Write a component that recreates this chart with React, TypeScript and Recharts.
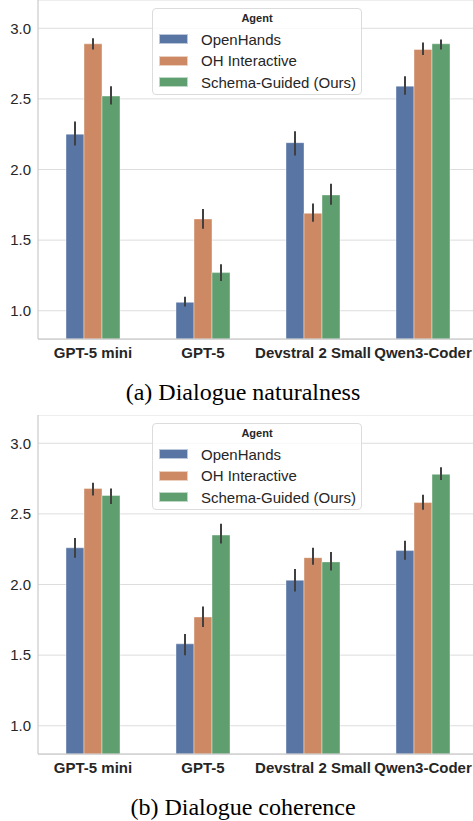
import { BarChart, Bar, XAxis, YAxis, CartesianGrid, ErrorBar, Legend } from 'recharts';

const CATEGORIES = ['GPT-5 mini', 'GPT-5', 'Devstral 2 Small', 'Qwen3-Coder'];
const AGENTS = ['OpenHands', 'OH Interactive', 'Schema-Guided (Ours)'];
const COLORS = ['#5875a4', '#cc8963', '#5f9e6e'];
const Y_TICKS = [1.0, 1.5, 2.0, 2.5, 3.0];

// (a) Dialogue naturalness: mean, CI low, CI high per agent
const NAT_MEAN = [
  [2.25, 1.06, 2.19, 2.59],
  [2.89, 1.65, 1.69, 2.85],
  [2.52, 1.27, 1.82, 2.89],
];
const NAT_LO = [
  [2.17, 1.03, 2.1, 2.53],
  [2.85, 1.58, 1.63, 2.81],
  [2.46, 1.21, 1.75, 2.85],
];
const NAT_HI = [
  [2.34, 1.1, 2.27, 2.66],
  [2.93, 1.72, 1.76, 2.9],
  [2.59, 1.33, 1.9, 2.92],
];

// (b) Dialogue coherence
const COH_MEAN = [
  [2.26, 1.58, 2.03, 2.24],
  [2.68, 1.77, 2.19, 2.58],
  [2.63, 2.35, 2.16, 2.78],
];
const COH_LO = [
  [2.19, 1.5, 1.95, 2.175],
  [2.63, 1.7, 2.14, 2.53],
  [2.57, 2.29, 2.1, 2.74],
];
const COH_HI = [
  [2.33, 1.65, 2.11, 2.31],
  [2.72, 1.845, 2.26, 2.635],
  [2.68, 2.43, 2.23, 2.83],
];

const SANS = '"Liberation Sans", Arial, sans-serif';
const TEXT = '#262626';

function buildRows(mean: number[][], lo: number[][], hi: number[][]) {
  return CATEGORIES.map((name, i) => {
    const row: any = { name };
    AGENTS.forEach((_, k) => {
      row[`m${k}`] = mean[k][i];
      row[`e${k}`] = [mean[k][i] - lo[k][i], hi[k][i] - mean[k][i]];
    });
    return row;
  });
}

function AgentLegend({ payload }: any) {
  // keep the hue order, not recharts' alphabetical order
  const items = [...(payload || [])].sort((a: any, b: any) => AGENTS.indexOf(a.value) - AGENTS.indexOf(b.value));
  return (
    <div
      style={{
        boxSizing: 'border-box',
        width: 210,
        height: 87,
        background: 'rgba(255,255,255,0.8)',
        border: '1px solid #dcdcdc',
        borderRadius: 4,
        fontFamily: SANS,
        color: TEXT,
        position: 'relative',
      }}
    >
      <div style={{ position: 'absolute', top: 3, left: 0, width: '100%', textAlign: 'center', fontSize: 11, fontWeight: 'bold' }}>
        Agent
      </div>
      {items.map((p: any, i: number) => (
        <div key={p.value} style={{ position: 'absolute', left: 6, top: 19 + i * 21.5, height: 22, display: 'flex', alignItems: 'center' }}>
          <div style={{ width: 29, height: 10, background: p.color, boxSizing: 'border-box', border: '0.5px solid rgba(255,255,255,0.6)' }} />
          <span style={{ marginLeft: 13, fontSize: 15, whiteSpace: 'nowrap' }}>{p.value}</span>
        </div>
      ))}
    </div>
  );
}

function Panel({ rows }: { rows: any[] }) {
  return (
    <BarChart
      width={480}
      height={370}
      data={rows}
      margin={{ top: 0, right: 2, left: 0, bottom: 0 }}
      barCategoryGap={28}
      barGap={0}
    >
      <CartesianGrid vertical={false} stroke="#dddddd" strokeWidth={1} />
      <XAxis
        dataKey="name"
        height={31}
        tickLine={false}
        tickSize={0}
        tickMargin={8}
        axisLine={{ stroke: '#cccccc', strokeWidth: 1.25 }}
        tick={{ fontFamily: SANS, fontSize: 15, fontWeight: 'bold', fill: TEXT }}
        interval={0}
      />
      <YAxis
        width={38}
        domain={[0.8, 3.2]}
        ticks={Y_TICKS}
        allowDataOverflow
        tickLine={false}
        tickSize={0}
        tickMargin={7}
        axisLine={{ stroke: '#cccccc', strokeWidth: 1.25 }}
        tick={{ fontFamily: SANS, fontSize: 15, fill: TEXT }}
        tickFormatter={(v: number) => v.toFixed(1)}
      />
      <Legend
        layout="horizontal"
        verticalAlign="middle"
        align="center"
        content={<AgentLegend />}
        wrapperStyle={{ position: 'absolute', left: 152, top: 8, width: 210, height: 87 }}
      />
      {AGENTS.map((a, k) => (
        <Bar key={a} dataKey={`m${k}`} name={a} fill={COLORS[k]} stroke="#ffffff" strokeOpacity={0.5} strokeWidth={0.8} isAnimationActive={false}>
          <ErrorBar dataKey={`e${k}`} direction="y" width={0} stroke="#404040" strokeWidth={2} />
        </Bar>
      ))}
    </BarChart>
  );
}

const captionStyle: any = {
  position: 'absolute',
  left: 0,
  width: 486,
  textAlign: 'center',
  fontFamily: '"Liberation Serif", "Times New Roman", serif',
  fontSize: 24,
  lineHeight: '24px',
  color: '#000',
  whiteSpace: 'nowrap',
};

export default function App() {
  const natRows = buildRows(NAT_MEAN, NAT_LO, NAT_HI);
  const cohRows = buildRows(COH_MEAN, COH_LO, COH_HI);
  return (
    <div style={{ position: 'absolute', left: 0, top: 0, width: 473, height: 821, overflow: 'hidden', background: '#fff' }}>
      <div style={{ position: 'absolute', left: 0, top: 0 }}>
        <Panel rows={natRows} />
      </div>
      <div style={{ ...captionStyle, top: 380 }}>(a) Dialogue naturalness</div>
      <div style={{ position: 'absolute', left: 0, top: 415 }}>
        <Panel rows={cohRows} />
      </div>
      <div style={{ ...captionStyle, top: 795 }}>(b) Dialogue coherence</div>
    </div>
  );
}
